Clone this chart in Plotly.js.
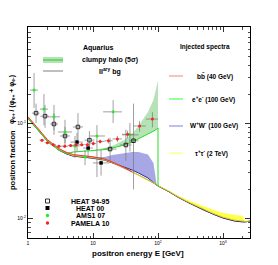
<!DOCTYPE html>
<html><head><meta charset="utf-8">
<script src="https://cdn.plot.ly/plotly-3.0.1.min.js"></script>
<style>html,body{margin:0;padding:0;background:#fff}#chart{width:278px;height:265px}</style>
</head><body><div id="chart"></div>
<script>
// ---- model curves (energy grid in GeV, positron fraction) ----
const energyGrid = [1, 1.5, 2, 3, 4, 5, 7, 10, 15, 20, 30, 40, 50, 70, 85, 95, 100, 100, 150, 200, 300, 500, 700, 1000, 1500, 2000, 2200, 2600];
const bgFraction = [0.113, 0.0824, 0.0646, 0.052, 0.0472, 0.045, 0.0439, 0.0428, 0.0408, 0.038, 0.0336, 0.0305, 0.0284, 0.0251, 0.0233, 0.0222, 0.0217, 0.0217, 0.0188, 0.0166, 0.0144, 0.0121, 0.011, 0.0100, 0.0093, 0.0091, 0.0091, 0.0093];
const bbLine  = [0.1165, 0.0850, 0.0666, 0.0536, 0.0487, 0.0464, 0.0452, 0.0440, 0.0418, 0.0388, 0.0340, 0.0306, 0.0284, 0.0251, 0.0233, 0.0222, 0.0217, 0.0217, 0.0188, 0.0166, 0.0144, 0.0121, 0.011, 0.0100, 0.0093, 0.0091, 0.0091, 0.0093];
const bbUpper = [0.1180, 0.0862, 0.0676, 0.0545, 0.0496, 0.0473, 0.0461, 0.0449, 0.0426, 0.0395, 0.0345, 0.0308, 0.0284, 0.0251, 0.0233, 0.0222, 0.0217, 0.0217, 0.0188, 0.0166, 0.0144, 0.0121, 0.011, 0.0100, 0.0093, 0.0091, 0.0091, 0.0093];
const eeLine  = [0.1118, 0.0815, 0.0640, 0.0515, 0.0480, 0.0495, 0.0502, 0.0507, 0.0525, 0.0546, 0.0586, 0.0631, 0.0679, 0.0766, 0.0820, 0.0860, 0.0886, 0.0217, 0.0188, 0.0166, 0.0144, 0.0121, 0.011, 0.0100, 0.0093, 0.0091, 0.0091, 0.0093];
const eeUpper = [0.1118, 0.0815, 0.0640, 0.0515, 0.0482, 0.0500, 0.0510, 0.0518, 0.0545, 0.0575, 0.0662, 0.0766, 0.0930, 0.1306, 0.1750, 0.2350, 0.2800, 0.0217, 0.0188, 0.0166, 0.0144, 0.0121, 0.011, 0.0100, 0.0093, 0.0091, 0.0091, 0.0093];
const wwLine  = [0.1122, 0.0818, 0.0642, 0.0517, 0.0469, 0.0447, 0.0437, 0.0428, 0.0408, 0.0381, 0.0344, 0.0320, 0.0298, 0.0264, 0.0236, 0.0222, 0.0217, 0.0217, 0.0188, 0.0166, 0.0144, 0.0121, 0.011, 0.0100, 0.0093, 0.0091, 0.0091, 0.0093];
const wwUpper = [0.1122, 0.0818, 0.0642, 0.0517, 0.0469, 0.0447, 0.0437, 0.0435, 0.0439, 0.0460, 0.0483, 0.0495, 0.0495, 0.0465, 0.0380, 0.0228, 0.0217, 0.0217, 0.0188, 0.0166, 0.0144, 0.0121, 0.011, 0.0100, 0.0093, 0.0091, 0.0091, 0.0093];
const tauLine  = [0.1140, 0.0830, 0.0652, 0.0525, 0.0476, 0.0454, 0.0443, 0.0432, 0.0411, 0.0383, 0.0338, 0.0307, 0.0286, 0.0253, 0.0235, 0.0224, 0.0219, 0.0219, 0.0190, 0.0168, 0.0146, 0.0123, 0.0112, 0.0102, 0.0095, 0.0093, 0.0092, 0.0093];
const tauUpper = [0.1140, 0.0830, 0.0652, 0.0525, 0.0476, 0.0454, 0.0443, 0.0432, 0.0411, 0.0383, 0.0338, 0.0307, 0.0286, 0.0253, 0.0235, 0.0224, 0.0219, 0.0219, 0.0193, 0.0173, 0.0153, 0.0132, 0.0122, 0.0114, 0.0108, 0.0106, 0.0092, 0.0093];
// index where each injected-spectrum line stops (after its mass cut-off)
const bbStop = 12, eeStop = 18;

// ---- data sets ----
const heat95E   = [1.33, 1.83, 2.51, 3.71, 5.87, 8.8, 18.3, 32, 42];
const heat95F   = [0.127, 0.118, 0.0976, 0.073, 0.0908, 0.066, 0.0532, 0.0587, 0.065];
const heat95Lo  = [0.100, 0.089, 0.075, 0.056, 0.066, 0.053, 0.040, 0.040, 0.020];
const heat95Hi  = [0.160, 0.155, 0.127, 0.091, 0.127, 0.082, 0.070, 0.085, 0.160];
const heat95ELo = [1.15, 1.55, 2.2, 3.1, 4.9, 7.4, 14.5, 26, 36];
const heat95EHi = [1.5, 2.1, 2.9, 4.4, 7.0, 10.5, 23, 39, 50];

const heat00E   = [5.67, 8.4, 13.3];
const heat00F   = [0.063, 0.0545, 0.038];
const heat00Lo  = [0.050, 0.043, 0.028];
const heat00Hi  = [0.0785, 0.0695, 0.052];
const heat00ELo = [4.5, 7.0, 10];
const heat00EHi = [7.0, 10, 18];

const amsE   = [1.24, 1.76, 2.51, 3.71, 5.28, 7.54, 11.5, 20.4, 37];
const amsF   = [0.222, 0.140, 0.116, 0.0804, 0.0573, 0.0438, 0.073, 0.131, 0.075];
const amsLo  = [0.144, 0.095, 0.084, 0.0616, 0.043, 0.036, 0.027, 0.100, 0.050];
const amsHi  = [0.336, 0.202, 0.155, 0.108, 0.073, 0.052, 0.095, 0.174, 0.100];
const amsELo = [1.07, 1.53, 2.03, 2.9, 4.5, 6.5, 9.0, 14.3, 28];
const amsEHi = [1.42, 2.03, 3.1, 4.75, 6.2, 9.0, 15.3, 27.9, 50];

const pamE   = [1.64, 1.99, 2.44, 2.99, 3.68, 4.53, 5.5, 6.7, 8.2, 10.1, 12.9, 17.3, 23.7, 34, 52, 82];
const pamF   = [0.066, 0.062, 0.059, 0.057, 0.057, 0.058, 0.059, 0.059, 0.059, 0.061, 0.064, 0.065, 0.068, 0.076, 0.093, 0.110];
const pamErr = [0.002, 0.002, 0.002, 0.002, 0.002, 0.002, 0.002, 0.002, 0.002, 0.003, 0.003, 0.004, 0.005, 0.007, 0.012, 0.02];
const pamELo = [1.5, 1.8, 2.2, 2.7, 3.3, 4.1, 5.0, 6.1, 7.4, 9.1, 11.2, 15, 20, 28, 42, 65];
const pamEHi = [1.8, 2.2, 2.7, 3.3, 4.1, 5.0, 6.1, 7.4, 9.1, 11.2, 15, 20, 28, 42, 65, 100];

const xTickVals = [1, 10, 100, 1000];
const xTickText = ['1', '10', '10<sup>2</sup>', '10<sup>3</sup>'];
const yTickVals = [0.01, 0.1];
const yTickText = ['10<sup>-2</sup>', '10<sup>-1</sup>'];

// ---- helpers ----
const diffUp = (hi, v) => hi.map((h, i) => h - v[i]);
const diffDn = (lo, v) => lo.map((l, i) => v[i] - l);

function band(upper, lower, fill) {
  return [
    {x: energyGrid, y: lower, mode: 'lines', line: {width: 0}, hoverinfo: 'skip', showlegend: false},
    {x: energyGrid, y: upper, mode: 'lines', line: {width: 0}, fill: 'tonexty', fillcolor: fill, hoverinfo: 'skip', showlegend: false}
  ];
}
function line(y, color, w, stop) {
  const n = stop === undefined ? energyGrid.length : stop;
  return {x: energyGrid.slice(0, n), y: y.slice(0, n), mode: 'lines', line: {color: color, width: w || 1}, showlegend: false};
}
const errCol = '#777';
const errStyle = arr => Object.assign({type: 'data', color: errCol, thickness: 0.7, width: 0}, arr);
function pts(E, F, lo, hi, eLo, eHi, marker) {
  return {
    x: E, y: F, mode: 'markers', showlegend: false, marker: marker,
    error_y: errStyle({symmetric: false, array: diffUp(hi, F), arrayminus: diffDn(lo, F)}),
    error_x: errStyle({symmetric: false, array: diffUp(eHi, E), arrayminus: diffDn(eLo, E)})
  };
}

const traces = [].concat(
  band(bbUpper, bbLine, 'rgba(255,150,150,0.6)'),
  band(wwUpper, wwLine, 'rgba(120,120,215,0.65)'),
  band(eeUpper, eeLine, 'rgba(110,200,110,0.5)'),
  band(tauUpper, tauLine, 'rgba(255,255,60,0.9)'),
  [
    line(bgFraction, '#999', 1),
    line(wwLine, '#2a2a90', 1),
    line(tauLine, '#e0cc00', 1),
    line(eeLine, '#22dd22', 1, eeStop),
    line(bbLine, '#ff3030', 1, bbStop),
    pts(heat95E, heat95F, heat95Lo, heat95Hi, heat95ELo, heat95EHi, {symbol: 'square-open', size: 3.5, color: '#000', line: {width: 0.8, color: '#000'}}),
    pts(heat00E, heat00F, heat00Lo, heat00Hi, heat00ELo, heat00EHi, {symbol: 'square', size: 3.5, color: '#000'}),
    pts(amsE, amsF, amsLo, amsHi, amsELo, amsEHi, {symbol: 'circle', size: 3, color: '#22ee22'}),
    {
      x: pamE, y: pamF, mode: 'markers', showlegend: false,
      marker: {symbol: 'circle', size: 3, color: '#ff2020'},
      error_y: errStyle({array: pamErr}),
      error_x: errStyle({symmetric: false, array: diffUp(pamEHi, pamE), arrayminus: diffDn(pamELo, pamE)})
    }
  ]
);

// minor tick positions
const xMinor = [], yMinor = [];
for (let d = 1; d <= 1000; d *= 10) for (let k = 2; k <= 9; k++) xMinor.push(k * d);
for (let d = 0.001; d <= 0.1; d *= 10) for (let k = 2; k <= 9; k++) yMinor.push(+(k * d).toPrecision(3));

const FONT = 'Liberation Sans, Arial, sans-serif';
const px2x = p => (p - 28) / 222;
const py2y = p => (238 - p) / 211;

const ann = [];
const shapes = [];
function txt(text, px, py, size, anchor, extra) {
  ann.push(Object.assign({text: text, x: px2x(px), y: py2y(py), xref: 'paper', yref: 'paper', showarrow: false,
    xanchor: anchor || 'center', yanchor: 'middle', font: {family: FONT, size: size, color: '#000'}}, extra || {}));
}
function hline(x0, x1, py, color, w) {
  shapes.push({type: 'line', xref: 'paper', yref: 'paper', x0: px2x(x0), x1: px2x(x1), y0: py2y(py), y1: py2y(py), line: {color: color, width: w}});
}
function rect(x0, x1, y0, y1, fill, lineCol, lw) {
  shapes.push({type: 'rect', xref: 'paper', yref: 'paper', x0: px2x(x0), x1: px2x(x1), y0: py2y(y1), y1: py2y(y0), fillcolor: fill, line: {color: lineCol || fill, width: lw || 0}});
}

// Aquarius legend
txt('<b>Aquarius</b>', 97.5, 48, 7);
rect(43, 63, 57, 63, 'rgba(110,200,110,0.5)');
hline(43, 63, 60, '#22cc22', 1);
txt('<b>clumpy halo (5σ)</b>', 110, 60, 7);
hline(43, 63, 71, '#aaa', 1.5);
txt('<b>II<sup>ary</sup> bg</b>', 110, 71, 7);

// Injected spectra legend
txt('<b>Injected spectra</b>', 205, 47, 6.5);
hline(169, 183, 76, '#ffaaaa', 1.5);
txt('<b>bb̄ (40 GeV)</b>', 215, 76, 6.5);
hline(169, 183, 99, '#77ff77', 1.5);
txt('<b>e<sup>+</sup>e<sup>-</sup> (100 GeV)</b>', 213, 99, 6.5);
hline(169, 183, 126, '#aaaaee', 1.5);
txt('<b>W<sup>+</sup>W<sup>-</sup> (100 GeV)</b>', 214, 126, 6.5);
hline(169, 183, 153, '#ffff99', 1.5);
txt('<b>τ<sup>+</sup>τ<sup>-</sup> (2 TeV)</b>', 211, 153, 6.5);

// data legend
rect(45.5, 49.5, 199, 203, 'rgba(0,0,0,0)', '#000', 0.8);
txt('<b>HEAT 94-95</b>', 90, 201, 7);
rect(45.5, 49.5, 206, 210, '#000');
txt('<b>HEAT 00</b>', 90, 208, 7);
shapes.push({type: 'circle', xref: 'paper', yref: 'paper', x0: px2x(45.8), x1: px2x(49.2), y0: py2y(217.2), y1: py2y(213.8), fillcolor: '#22ee22', line: {width: 0}});
txt('<b>AMS1 07</b>', 90, 215.5, 7);
shapes.push({type: 'circle', xref: 'paper', yref: 'paper', x0: px2x(45.8), x1: px2x(49.2), y0: py2y(224.7), y1: py2y(221.3), fillcolor: '#ff2020', line: {width: 0}});
txt('<b>PAMELA 10</b>', 90, 223, 7);

// axis titles
txt('<b>positron energy E [GeV]</b>', 138, 253, 8);
txt('<b>positron fraction</b>', 12, 160, 7.5, 'center', {textangle: -90});
txt('<b>φ<sub>e+</sub> / (φ<sub>e+</sub> + φ<sub>e-</sub>)</b>', 12, 100, 7, 'center', {textangle: -90});

const axisCommon = {
  type: 'log', showgrid: false, zeroline: false, showline: true, linecolor: '#000', linewidth: 1,
  mirror: 'ticks', ticks: 'inside', ticklen: 5, tickcolor: '#000', tickwidth: 0.8,
  tickfont: {family: FONT, size: 5, color: '#000'}, tickmode: 'array'
};

const layout = {
  width: 278, height: 265,
  margin: {l: 28, r: 28, t: 27, b: 27, pad: 0},
  paper_bgcolor: '#fff', plot_bgcolor: '#fff',
  showlegend: false,
  font: {family: FONT},
  xaxis: Object.assign({}, axisCommon, {range: [0, 3.415], tickvals: xTickVals, ticktext: xTickText,
    minor: {tickmode: 'array', tickvals: xMinor, ticks: 'inside', ticklen: 2.5, tickcolor: '#000', tickwidth: 0.7}}),
  yaxis: Object.assign({}, axisCommon, {range: [-2.21, 0.01], tickvals: yTickVals, ticktext: yTickText,
    minor: {tickmode: 'array', tickvals: yMinor, ticks: 'inside', ticklen: 2.5, tickcolor: '#000', tickwidth: 0.7}}),
  annotations: ann,
  shapes: shapes
};

Plotly.newPlot('chart', traces, layout, {staticPlot: true, displayModeBar: false});
</script>
</body></html>
